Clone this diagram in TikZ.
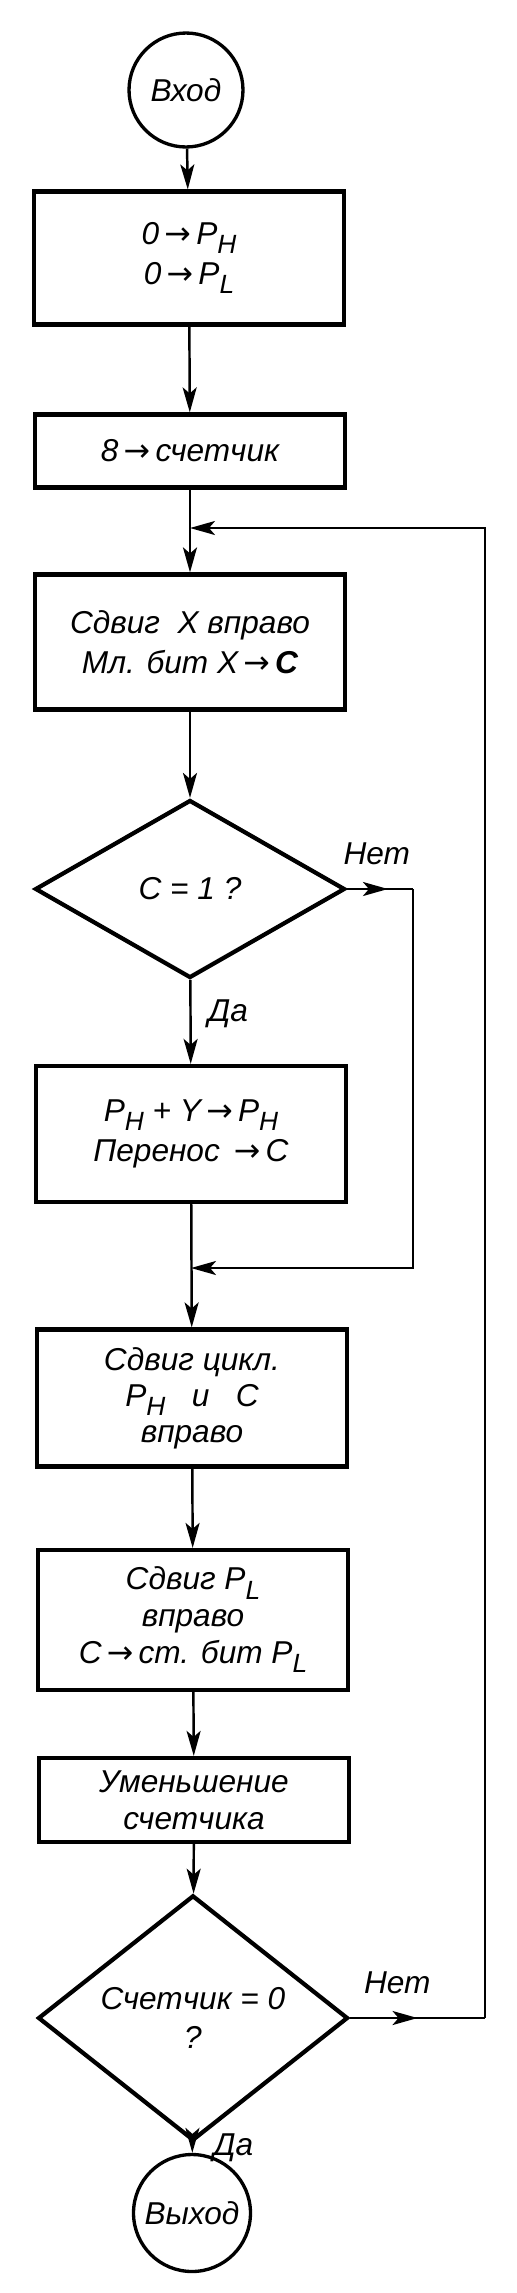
\documentclass[tikz,border=0pt]{standalone}
\usepackage{fontspec}
\setmainfont{Liberation Sans}
\newfontfamily\symf{DejaVu Sans}
\usetikzlibrary{arrows.meta,shapes.geometric,decorations.markings}
\newcommand{\ar}{{\symf\,→\,}}
\newcommand{\Psb}[2]{#1\raisebox{-0.55ex}{\fontsize{15}{15}\selectfont #2}}
\begin{document}
\begin{tikzpicture}[x=0.02cm,y=-0.02cm,
  txt/.style={font=\itshape\fontsize{18}{23}\selectfont},
  stepbox/.style={draw, txt, line width=2.4pt, minimum width=6.2cm, align=center, inner sep=2pt},
  dia/.style={draw, diamond, txt, line width=2.4pt, minimum width=6.2cm, minimum height=3.56cm, inner sep=0pt, align=center},
  term/.style={draw, circle, txt, line width=1.9pt, inner sep=0pt},
  lab/.style={txt},
  conn/.style={line width=1.4pt},
  tip/.style={-{Stealth[length=0.5cm,width=0.28cm,inset=0.12cm]}},
  arr/.style={conn, tip},
  midarr/.style={conn, postaction={decorate}, decoration={markings, mark=at position #1 with {\arrow{Stealth[length=0.5cm,width=0.28cm,inset=0.12cm]}}}}
]
\useasboundingbox (0,0) rectangle (517,2293);

\node[term, minimum size=2.28cm] (start) at (186,90) {Вход};
\node[stepbox, minimum height=2.66cm] (b1) at (189,258) {0\ar\Psb{P}{H}\\0\ar\Psb{P}{L}};
\node[stepbox, minimum height=1.46cm] (b2) at (190,451) {8\ar счетчик};
\node[stepbox, minimum height=2.70cm] (b3) at (190,642) {Сдвиг\ \ X\ вправо\\Мл. бит X\ar\textbf{C}};
\node[dia] (d1) at (190,889) {C = 1 ?};
\node[stepbox, minimum height=2.72cm] (b4) at (191,1134) {\Psb{P}{H} + Y\ar\Psb{P}{H}\\Перенос \ar C};
\node[stepbox, minimum height=2.74cm, font=\itshape\fontsize{18}{20.5}\selectfont] (b5) at (192,1398) {Сдвиг цикл.\\\Psb{P}{H}\ \ \ и\ \ \ C\\вправо};
\node[stepbox, minimum height=2.80cm, font=\itshape\fontsize{18}{21}\selectfont] (b6) at (193,1620) {Сдвиг \Psb{P}{L}\\вправо\\C\ar ст. бит \Psb{P}{L}};
\node[stepbox, minimum height=1.68cm, font=\itshape\fontsize{18}{21}\selectfont] (b7) at (194,1800) {Уменьшение\\счетчика};
\node[dia, minimum height=3.54cm, font=\itshape\fontsize{18}{22}\selectfont] (d2) at (193,2018) {Счетчик = 0\\?};
\node[term, minimum size=2.34cm] (stop) at (192,2213) {Выход};

\coordinate (j1) at (190,528);
\coordinate (j2) at (191,1268);
\coordinate (r1) at (413,889);
\coordinate (r2) at (485,2018);

\draw[arr] (start) -- (b1);
\draw[arr] (b1) -- (b2);
\draw[arr] (b2) -- (b3);
\draw[arr] (b3) -- (d1);
\draw[arr] (d1) -- node[lab, right=6pt, pos=0.4] (da1) {Да} (b4);
\draw[midarr=0.62] (d1.east) -- node[lab, above=10pt, pos=0.45] (net1) {Нет} (r1);
\draw[arr] (r1) |- (j2);
\draw[arr] (b4) -- (b5);
\draw[arr] (b5) -- (b6);
\draw[arr] (b6) -- (b7);
\draw[arr] (b7) -- (d2);
\draw[arr] (d2) -- node[lab, right=8pt, pos=0.55] (da2) {Да} (stop);
\draw[midarr=0.5] (d2.east) -- node[lab, above=10pt, pos=0.35] (net2) {Нет} (r2);
\draw[arr] (r2) |- (j1);
\end{tikzpicture}
\end{document}
